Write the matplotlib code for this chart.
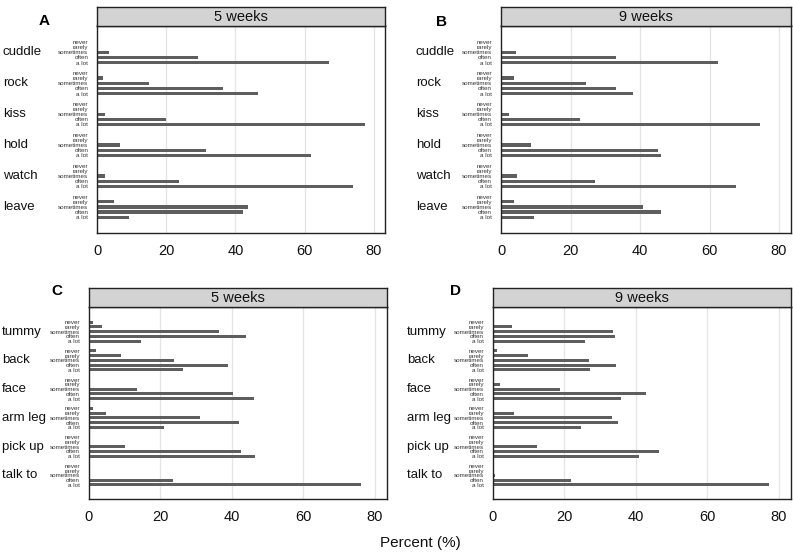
import numpy as np
import matplotlib
matplotlib.use('Agg')
import matplotlib.pyplot as plt
import matplotlib.transforms as mtransforms

plt.rcParams['font.family'] = ['Liberation Sans', 'DejaVu Sans']

levels = ['never', 'rarely', 'sometimes', 'often', 'a lot']
acts_top = ['cuddle', 'rock', 'kiss', 'hold', 'watch', 'leave']
acts_bottom = ['tummy', 'back', 'face', 'arm leg', 'pick up', 'talk to']

# percent per behaviour, in order never..a lot
a_5wk = [[0, 0, 3.5, 29.1, 67.1],
         [0, 1.6, 15.1, 36.3, 46.4],
         [0, 0, 2.2, 20.0, 77.5],
         [0, 0, 6.5, 31.6, 61.8],
         [0, 0, 2.2, 23.7, 74.1],
         [0, 4.7, 43.7, 42.1, 9.3]]
b_9wk = [[0, 0, 4.2, 33.2, 62.5],
         [0.3, 3.6, 24.5, 33.1, 38.1],
         [0, 0, 2.2, 22.7, 74.6],
         [0, 0, 8.6, 45.2, 45.9],
         [0, 0.3, 4.7, 27.1, 67.7],
         [0, 3.6, 40.9, 45.9, 9.4]]
c_5wk = [[1.2, 3.6, 36.3, 44.1, 14.7],
         [2.0, 9.0, 23.8, 38.9, 26.4],
         [0, 0.4, 13.4, 40.2, 46.2],
         [1.2, 4.9, 31.0, 42.0, 21.0],
         [0, 0.4, 10.1, 42.7, 46.5],
         [0, 0, 0.4, 23.7, 76.0]]
d_9wk = [[0.4, 5.4, 33.6, 34.1, 25.7],
         [1.1, 10.0, 26.9, 34.4, 27.2],
         [0.1, 2.1, 18.8, 42.8, 35.9],
         [0.4, 5.9, 33.5, 35.1, 24.7],
         [0, 0.1, 12.3, 46.4, 40.9],
         [0, 0, 0.6, 21.9, 77.4]]

W, H = 793, 553
fig = plt.figure(figsize=(W / 100, H / 100), dpi=100)


def px_axes(l, r, t, b):
    return fig.add_axes([l / W, 1 - b / H, (r - l) / W, (b - t) / H])


# (data, acts, title, letter, axes box, strip top, group label x, letter pos)
panels = [
    (a_5wk, acts_top, '5 weeks', 'A', (97.3, 385, 25.5, 232.7), 7.3, 2.7, (43.7, 21.3)),
    (b_9wk, acts_top, '9 weeks', 'B', (501, 790.5, 25.5, 232.7), 7.3, 415.7, (442, 21.7)),
    (c_5wk, acts_bottom, '5 weeks', 'C', (88.7, 386.7, 306.7, 499.3), 288.3, 1.7, (57, 291.3)),
    (d_9wk, acts_bottom, '9 weeks', 'D', (492.7, 790.5, 306.7, 499.3), 288.3, 407.3, (455.3, 291.3)),
]

for data, acts, title, letter, box, strip_top, lab_x, let_pos in panels:
    l, r, t, b = box
    ax = px_axes(l, r, t, b)
    pos = []
    vals = []
    for g, row in enumerate(data):
        for k, v in enumerate(row):
            pos.append(g * 6 + k)
            vals.append(v)
    pos = np.array(pos)
    for gx in [20, 40, 60, 80]:
        ax.axvline(gx, color='#e4e4e4', lw=0.9, zorder=0)
    ax.barh(pos, vals, height=0.62, color='#5e5e5e', zorder=2)
    ax.set_xlim(0, 83.3)
    ax.set_ylim(37.0, -3.2)
    ax.set_xticks([0, 20, 40, 60, 80])
    ax.tick_params(axis='x', length=0, pad=8, labelsize=10.5, colors='#111111')
    ax.set_yticks(pos, [levels[p % 6] for p in pos])
    ax.tick_params(axis='y', length=0, pad=6.5, labelsize=4.5, colors='#333333')
    for s in ax.spines.values():
        s.set_linewidth(1.0)
        s.set_color('#222222')

    trans = mtransforms.blended_transform_factory(fig.transFigure, ax.transData)
    for g, name in enumerate(acts):
        ax.text(lab_x / W, g * 6 + 2, name, transform=trans, ha='left',
                va='center', fontsize=9.5, color='#111111')

    st = px_axes(l, r, strip_top, t)
    st.set_facecolor('#d3d3d3')
    st.set_xticks([])
    st.set_yticks([])
    for s in st.spines.values():
        s.set_linewidth(1.0)
        s.set_color('#222222')
    st.text(0.5, 0.45, title, ha='center', va='center', fontsize=10.5,
            transform=st.transAxes, color='#111111')

    fig.text(let_pos[0] / W, 1 - let_pos[1] / H, letter, ha='center',
             va='center', fontsize=11, fontweight='bold')

fig.text(420 / W, 1 - 543 / H, 'Percent (%)', ha='center', va='center',
         fontsize=11, color='#111111')

plt.savefig('out.png', dpi=100)
